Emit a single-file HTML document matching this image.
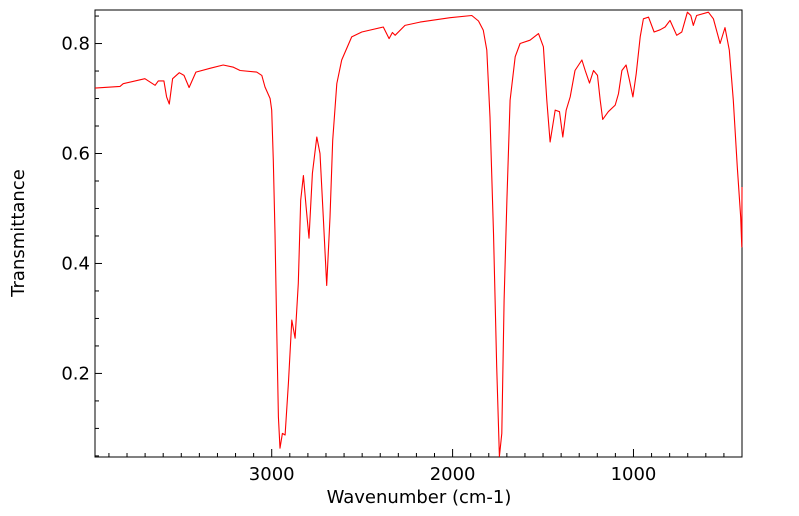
<!DOCTYPE html>
<html><head><meta charset="utf-8"><style>
body{margin:0;background:#fff}
svg{display:block}
text{font-family:"DejaVu Sans","Liberation Sans",sans-serif;fill:#000}
</style></head><body>
<svg id="chart" width="799" height="516" viewBox="0 0 799 516" xmlns="http://www.w3.org/2000/svg">
<g id="axes"></g>
<path id="series" fill="none" stroke="#ff0000" stroke-width="1.1" stroke-linejoin="round"></path>
<text x="419" y="503" font-size="18" text-anchor="middle">Wavenumber (cm-1)</text>
<text x="24" y="233" font-size="18" text-anchor="middle" transform="rotate(-90 24 233)">Transmittance</text>
</svg>
<script>
const wavenumbers=[3977,3839,3821,3701,3645,3627,3596,3581,3566,3548,3511,3485,3457,3419,3341,3268,3212,3175,3083,3055,3037,3009,3000,2991,2982,2972,2963,2954,2941,2926,2908,2889,2871,2853,2840,2825,2810,2794,2775,2751,2733,2715,2696,2678,2663,2640,2613,2558,2502,2383,2351,2333,2318,2263,2180,2014,1894,1857,1830,1811,1793,1774,1756,1741,1728,1715,1700,1682,1654,1627,1572,1525,1498,1479,1461,1433,1409,1391,1372,1350,1323,1285,1267,1243,1221,1199,1184,1170,1139,1101,1083,1064,1041,1022,1003,985,963,945,917,886,853,825,798,761,733,702,683,669,651,586,558,521,494,470,448,426,407,401,400];
const transmittance=[0.719,0.722,0.727,0.736,0.724,0.732,0.732,0.703,0.69,0.736,0.747,0.742,0.72,0.748,0.755,0.761,0.757,0.751,0.748,0.742,0.721,0.70,0.679,0.588,0.455,0.273,0.121,0.064,0.091,0.088,0.182,0.297,0.264,0.364,0.515,0.56,0.503,0.446,0.564,0.63,0.60,0.484,0.36,0.484,0.624,0.727,0.77,0.812,0.821,0.83,0.809,0.82,0.815,0.833,0.839,0.847,0.851,0.841,0.824,0.788,0.666,0.455,0.212,0.049,0.091,0.333,0.515,0.697,0.776,0.80,0.806,0.818,0.794,0.697,0.621,0.679,0.676,0.63,0.679,0.703,0.751,0.77,0.751,0.728,0.751,0.742,0.697,0.662,0.676,0.688,0.709,0.751,0.761,0.733,0.703,0.745,0.812,0.845,0.848,0.821,0.825,0.83,0.842,0.815,0.821,0.857,0.851,0.833,0.851,0.857,0.845,0.80,0.829,0.788,0.697,0.575,0.484,0.43,0.539];
const xTickLabels=[3000,2000,1000];
const yTickLabels=["0.2","0.4","0.6","0.8"];
const yTickValues=[0.2,0.4,0.6,0.8];

const L=95,R=742,T=10,B=457;
const X0=3977,X1=400,Y0=0.048,Y1=0.861;
const xs=v=>L+(X0-v)/(X0-X1)*(R-L);
const ys=v=>B-(v-Y0)/(Y1-Y0)*(B-T);
const NS="http://www.w3.org/2000/svg";
const ax=document.getElementById('axes');
function mk(tag,attrs){const e=document.createElementNS(NS,tag);for(const k in attrs)e.setAttribute(k,attrs[k]);ax.appendChild(e);return e;}
const frame=mk('rect',{x:L,y:T,width:R-L,height:B-T,fill:'none',stroke:'#000','stroke-width':1});


for(let w=3900;w>=X1;w-=100){
  const major=w%1000===0;
  const t=mk('line',{x1:xs(w),x2:xs(w),y1:B,y2:B-(major?8:4),stroke:'#000','stroke-width':1});
  
  
}
xTickLabels.forEach(v=>{
  const t=mk('text',{x:xs(v),y:B+23,'font-size':18,'text-anchor':'middle'});
  t.textContent=v;
  
  
});
for(let k=1;k<=17;k++){
  const v=k*0.05;if(v<Y0||v>Y1)continue;
  const major=k%4===0;
  const t=mk('line',{x1:L,x2:L+(major?7:4),y1:ys(v),y2:ys(v),stroke:'#000','stroke-width':1});
  
  
}
yTickValues.forEach((v,i)=>{
  const t=mk('text',{x:L-5,y:ys(v)+6,'font-size':18,'text-anchor':'end'});
  t.textContent=yTickLabels[i];
  
  
});
let d='';
wavenumbers.forEach((w,i)=>{d+=(i?'L':'M')+xs(w).toFixed(1)+' '+ys(transmittance[i]).toFixed(1);});
document.getElementById('series').setAttribute('d',d);
</script>
</body></html>
